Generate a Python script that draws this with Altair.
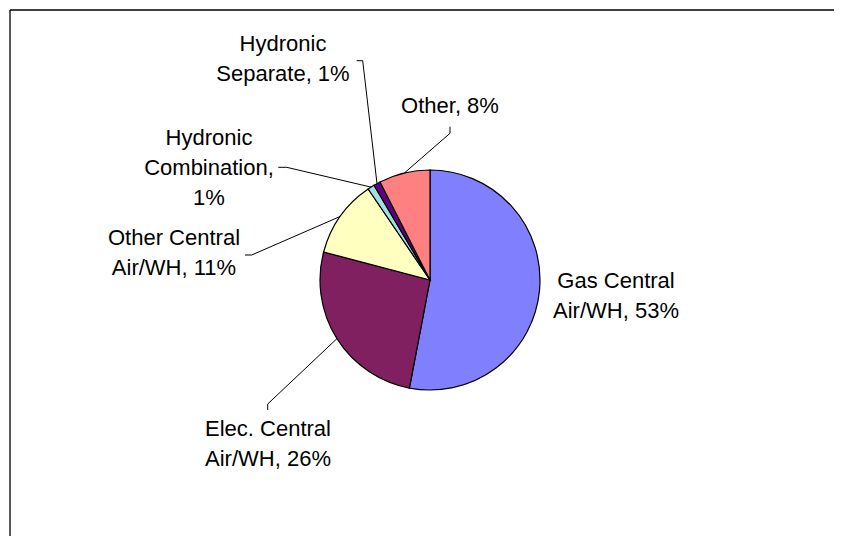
import math
import altair as alt
import pandas as pd

# ---- data ----
categories = ["Gas Central Air/WH", "Elec. Central Air/WH", "Other Central Air/WH",
              "Hydronic Combination", "Hydronic Separate", "Other"]
values = [53.0, 26.1, 11.4, 1.0, 1.0, 7.5]
label_lines = [
    ["Gas Central", "Air/WH, 53%"],
    ["Elec. Central", "Air/WH, 26%"],
    ["Other Central", "Air/WH, 11%"],
    ["Hydronic", "Combination,", "1%"],
    ["Hydronic", "Separate, 1%"],
    ["Other, 8%"],
]

# ---- styling / layout ----
colors = ["#8080FF", "#802060", "#FFFFC0", "#A0E0E0", "#600080", "#FF8080"]
label_x = [616, 268, 174, 209, 283, 450]          # page coords, label centre
label_y = [287.5, 435.5, 245, 145, 50.7, 112.7]   # first baseline
line_gap = 30
elbows = [
    [],
    [(267.7, 410), (267.7, 404)],
    [(245, 255), (251.7, 255)],
    [(278.3, 167.3), (286.7, 167.3)],
    [(356.7, 60.7), (362.7, 60.7)],
    [(450, 126.7), (450, 133.3)],
]

W, H = 826, 528
M = 8
CX, CY, R = 430, 280, 110

pie_df = pd.DataFrame({"category": categories, "value": values, "idx": list(range(len(values)))})

# text rows
trows = []
for i, lines in enumerate(label_lines):
    for j, t in enumerate(lines):
        trows.append({"label": categories[i], "text": t, "x": label_x[i], "y": label_y[i] + j * line_gap})
text_df = pd.DataFrame(trows)

# leader lines: elbow points then slice mid-angle on the rim
total = sum(values)
lrows = []
cum = 0.0
for i, v in enumerate(values):
    mid = 2 * math.pi * (cum + v / 2) / total
    cum += v
    if not elbows[i]:
        continue
    pts = list(elbows[i]) + [(CX + R * math.sin(mid), CY - R * math.cos(mid))]
    for k, (px, py) in enumerate(pts):
        lrows.append({"label": categories[i], "k": k, "x": px, "y": py})
lead_df = pd.DataFrame(lrows)

xs = alt.Scale(domain=[M, M + W], range=[0, W], nice=False, zero=False)
ys = alt.Scale(domain=[M, M + H], range=[0, H], nice=False, zero=False)

one = pd.DataFrame({"a": [0]})
border_top = alt.Chart(one).mark_rule(color="black", strokeWidth=1.3).encode(
    x=alt.value(10 - M), x2=alt.value(W), y=alt.value(10 - M))
border_left = alt.Chart(one).mark_rule(color="black", strokeWidth=1.3).encode(
    x=alt.value(10 - M), y=alt.value(10 - M), y2=alt.value(H))

arc = alt.Chart(pie_df).mark_arc(radius=R, stroke="black", strokeWidth=1.2).encode(
    theta=alt.Theta("value:Q", stack=True),
    color=alt.Color("category:N", scale=alt.Scale(domain=categories, range=colors), legend=None),
    order=alt.Order("idx:Q"),
    x=alt.value(CX - M),
    y=alt.value(CY - M),
)

leaders = alt.Chart(lead_df).mark_line(color="black", strokeWidth=1).encode(
    x=alt.X("x:Q", scale=xs, axis=None),
    y=alt.Y("y:Q", scale=ys, axis=None),
    detail="label:N",
    order="k:Q",
)

texts = alt.Chart(text_df).mark_text(
    font="Liberation Sans", fontSize=22, align="center", baseline="alphabetic", color="black"
).encode(
    x=alt.X("x:Q", scale=xs, axis=None),
    y=alt.Y("y:Q", scale=ys, axis=None),
    text="text:N",
)

chart = alt.layer(border_top, border_left, arc, leaders, texts).properties(
    width=W, height=H, autosize="none", padding=0, background="white"
).configure_view(stroke="transparent", strokeWidth=0)

chart.save("out.html", embed_options={"renderer": "svg", "actions": False})
